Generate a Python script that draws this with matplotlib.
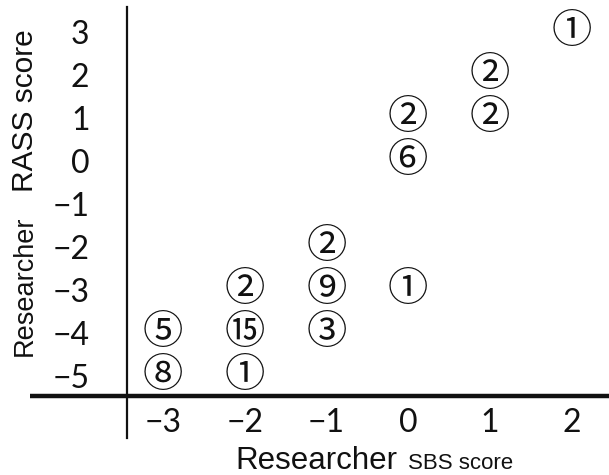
import matplotlib
matplotlib.use("Agg")
import matplotlib.pyplot as plt
from matplotlib.lines import Line2D

# Data: (SBS score, RASS score, count)
sbs_scores = [-3, -3, -2, -2, -2, -1, -1, -1, 0, 0, 0, 1, 1, 2]
rass_scores = [-4, -5, -3, -4, -5, -2, -3, -4, 1, 0, -3, 2, 1, 3]
counts = [5, 8, 2, 15, 1, 2, 9, 3, 2, 6, 1, 2, 2, 1]

x_ticks = [-3, -2, -1, 0, 1, 2]
y_ticks = [3, 2, 1, 0, -1, -2, -3, -4, -5]

W, H = 609, 475
fig = plt.figure(figsize=(W / 100, H / 100), dpi=100)
fig.patch.set_facecolor("white")

def fx(px):
    return px / W

def fy(py):
    return 1 - py / H

ax = fig.add_axes([fx(127), fy(396), fx(609) - fx(127), fy(7) - fy(396)])
ax.set_xlim(-3.44, 2.46)
ax.set_ylim(-5.47, 3.58)
for s in ax.spines.values():
    s.set_visible(False)
ax.patch.set_alpha(0)

circled = {i: chr(0x2460 + i - 1) for i in range(1, 21)}
for x, y, c in zip(sbs_scores, rass_scores, counts):
    ax.text(x, y, circled[c], ha="center", va="center", fontsize=29,
            family=["Noto Sans CJK JP", "DejaVu Sans"], color="#111111")

tick_font = ["Lato", "DejaVu Sans"]
ax.set_xticks(x_ticks)
ax.set_xticklabels([str(v).replace("-", "\u2212") for v in x_ticks],
                   fontsize=23, family=tick_font)
ax.set_yticks(y_ticks)
ax.set_yticklabels([str(v).replace("-", "\u2212") for v in y_ticks],
                   fontsize=23, family=tick_font)
ax.tick_params(axis="both", length=0, colors="#111111")
ax.tick_params(axis="x", pad=9)
ax.tick_params(axis="y", pad=27)

# Axis lines (decorative)
fig.add_artist(Line2D([fx(127), fx(127)], [fy(7), fy(438)], color="#111111",
                      lw=1.6, transform=fig.transFigure))
fig.add_artist(Line2D([fx(30), fx(609)], [fy(396), fy(396)], color="#111111",
                      lw=3.2, transform=fig.transFigure, solid_capstyle="butt"))

lab_font = ["Liberation Sans", "DejaVu Sans"]
fig.text(fx(235), fy(469), "Researcher", fontsize=22.5, family=lab_font,
         ha="left", va="baseline", color="#111111")
fig.text(fx(408), fy(469), "SBS score", fontsize=16, family=lab_font,
         ha="left", va="baseline", color="#111111")
fig.text(fx(25), fy(286), "Researcher", fontsize=19.5, family=lab_font,
         rotation=90, ha="center", va="center", color="#111111")
fig.text(fx(25), fy(111), "RASS score", fontsize=21.5, family=lab_font,
         rotation=90, ha="center", va="center", color="#111111")

fig.savefig("out.png", dpi=100)
